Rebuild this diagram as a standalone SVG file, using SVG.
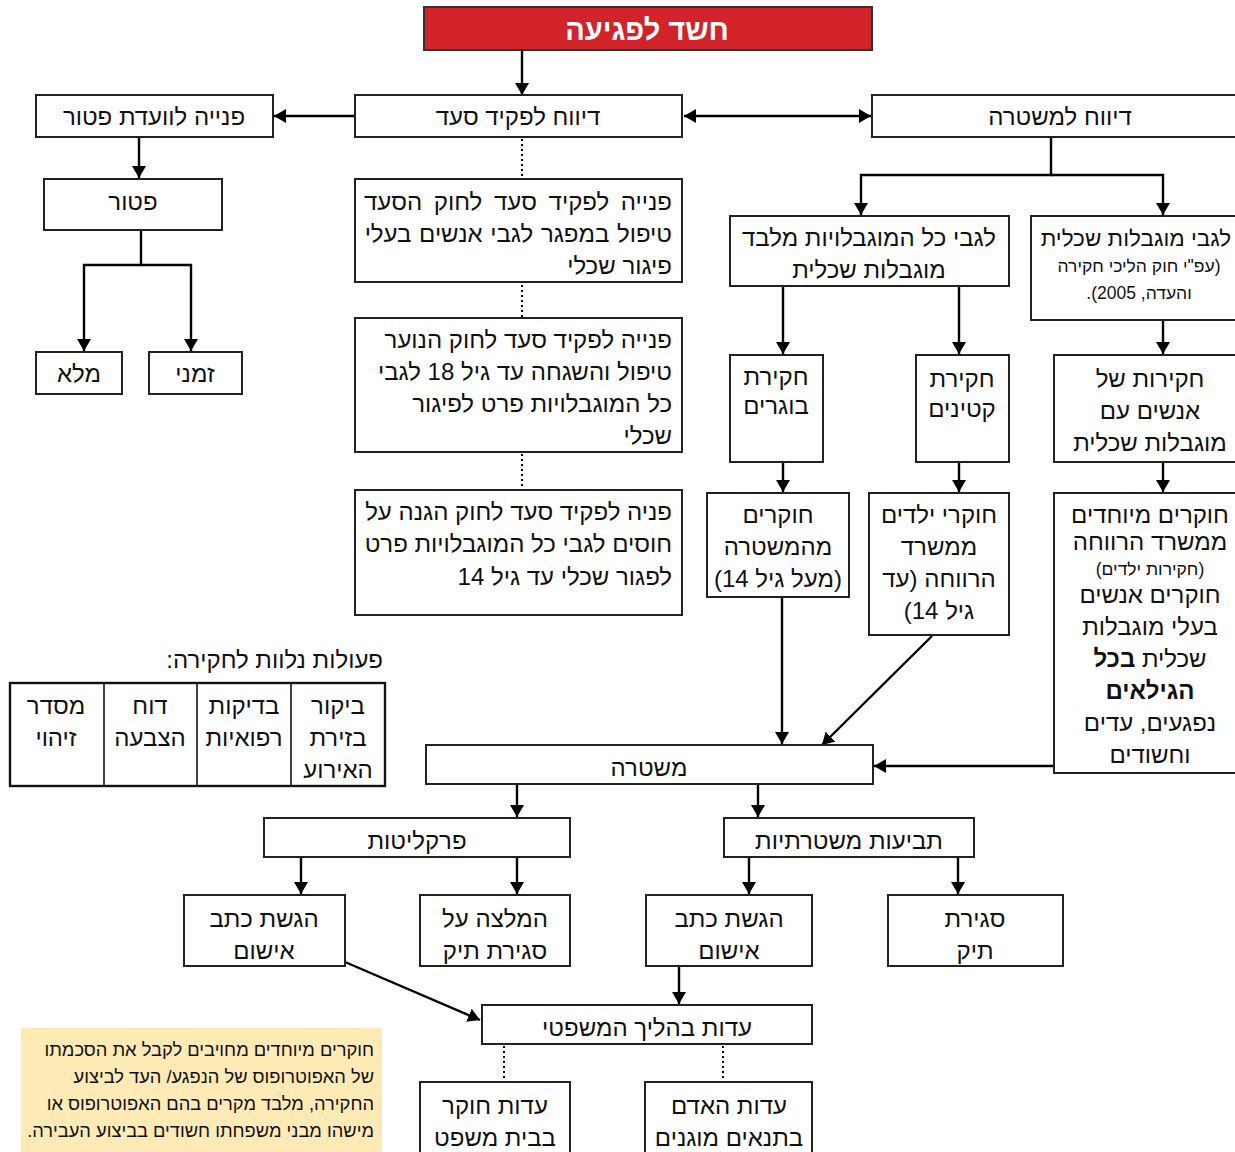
<svg xmlns="http://www.w3.org/2000/svg" width="1235" height="1152" viewBox="0 0 1235 1152">
<style>
text{font-family:"Liberation Sans","DejaVu Sans",sans-serif;font-size:24px;fill:#111;direction:rtl;text-anchor:middle}
.r{text-anchor:start}
.s{font-size:17.5px}
.n{font-size:18.3px}
.b{font-weight:bold}
.box{fill:#fff;stroke:#222;stroke-width:2}
.ln{fill:none;stroke:#000;stroke-width:2.4}
.dot{fill:none;stroke:#000;stroke-width:2;stroke-dasharray:2 3}
</style>
<defs>
<marker id="a" viewBox="0 0 12 14" refX="12" refY="7" markerWidth="12" markerHeight="14" orient="auto-start-reverse" markerUnits="userSpaceOnUse"><path d="M0,0 L12,7 L0,14 z" fill="#000"/></marker>
</defs>

<g id="connectors">
<path class="ln" d="M522,50 V95" marker-end="url(#a)"/>
<path class="ln" d="M355,116 H274" marker-end="url(#a)"/>
<path class="ln" d="M684,116 H871" marker-start="url(#a)" marker-end="url(#a)"/>
<path class="ln" d="M139,137 V178" marker-end="url(#a)"/>
<path class="ln" d="M141,230 V265 H84 V351" marker-end="url(#a)"/>
<path class="ln" d="M141,265 H191 V351" marker-end="url(#a)"/>
<path class="dot" d="M522,139 V178"/>
<path class="dot" d="M522,285 V317"/>
<path class="dot" d="M522,454 V489"/>
<path class="ln" d="M1051,137 V175 H861 V215" marker-end="url(#a)"/>
<path class="ln" d="M1051,175 H1163 V215" marker-end="url(#a)"/>
<path class="ln" d="M783,287 V354" marker-end="url(#a)"/>
<path class="ln" d="M959,287 V354" marker-end="url(#a)"/>
<path class="ln" d="M1163,321 V354" marker-end="url(#a)"/>
<path class="ln" d="M783,463 V492" marker-end="url(#a)"/>
<path class="ln" d="M959,463 V492" marker-end="url(#a)"/>
<path class="ln" d="M1163,463 V492" marker-end="url(#a)"/>
<path class="ln" d="M782,598 V744" marker-end="url(#a)"/>
<path class="ln" d="M932,636 L822,745" marker-end="url(#a)"/>
<path class="ln" d="M1054,766 H874" marker-end="url(#a)"/>
<path class="ln" d="M517,785 V817" marker-end="url(#a)"/>
<path class="ln" d="M758,785 V817" marker-end="url(#a)"/>
<path class="ln" d="M301,858 V894" marker-end="url(#a)"/>
<path class="ln" d="M517,858 V894" marker-end="url(#a)"/>
<path class="ln" d="M749,858 V894" marker-end="url(#a)"/>
<path class="ln" d="M958,858 V894" marker-end="url(#a)"/>
<path class="ln" d="M345,962 L480,1020" marker-end="url(#a)"/>
<path class="ln" d="M679,967 V1004" marker-end="url(#a)"/>
<path class="dot" d="M504,1046 V1081"/>
<path class="dot" d="M723,1046 V1081"/>
</g>

<g id="n-suspicion">
<rect x="424" y="7" width="448" height="43" fill="#d2232a" stroke="#333" stroke-width="2"/>
<text x="647" y="40" class="b" style="font-size:29px;fill:#fff">חשד לפגיעה</text>
</g>

<g id="n-welfare">
<rect class="box" x="355" y="95" width="327" height="42"/>
<text x="518" y="125">דיווח לפקיד סעד</text>
</g>

<g id="n-exemption-committee">
<rect class="box" x="36" y="95" width="237" height="42"/>
<text x="154" y="125">פנייה לוועדת פטור</text>
</g>

<g id="n-police-report">
<rect class="box" x="872" y="95" width="370" height="42"/>
<text x="1060" y="125">דיווח למשטרה</text>
</g>

<g id="n-exemption">
<rect class="box" x="44" y="179" width="178" height="51"/>
<text x="133" y="210">פטור</text>
</g>

<g id="n-full">
<rect class="box" x="36" y="352" width="86" height="42"/>
<text x="79" y="382">מלא</text>
</g>

<g id="n-temp">
<rect class="box" x="149" y="352" width="93" height="42"/>
<text x="195" y="382">זמני</text>
</g>

<g id="n-welfare-law">
<rect class="box" x="355" y="179" width="327" height="103"/>
<text class="r" x="672" y="210" style="word-spacing:5px">פנייה לפקיד סעד לחוק הסעד</text>
<text class="r" x="672" y="242" style="word-spacing:1px">טיפול במפגר לגבי אנשים בעלי</text>
<text class="r" x="672" y="274">פיגור שכלי</text>
</g>

<g id="n-youth-law">
<rect class="box" x="355" y="318" width="327" height="134"/>
<text class="r" x="672" y="348">פנייה לפקיד סעד לחוק הנוער</text>
<text class="r" x="672" y="380">טיפול והשגחה עד גיל 18 לגבי</text>
<text class="r" x="672" y="412">כל המוגבלויות פרט לפיגור</text>
<text class="r" x="672" y="444">שכלי</text>
</g>

<g id="n-protection-law">
<rect class="box" x="355" y="490" width="327" height="125"/>
<text class="r" x="672" y="520">פניה לפקיד סעד לחוק הגנה על</text>
<text class="r" x="672" y="552">חוסים לגבי כל המוגבלויות פרט</text>
<text class="r" x="672" y="585">לפגור שכלי עד גיל 14</text>
</g>

<g id="n-all-disabilities">
<rect class="box" x="730" y="216" width="279" height="70"/>
<text x="869" y="246">לגבי כל המוגבלויות מלבד</text>
<text x="869" y="278">מוגבלות שכלית</text>
</g>

<g id="n-intellectual">
<rect class="box" x="1031" y="216" width="211" height="104"/>
<text x="1136" y="246" style="font-size:22.5px">לגבי מוגבלות שכלית</text>
<text class="s" x="1139" y="272">(עפ"י חוק הליכי חקירה</text>
<text class="s" x="1139" y="299">והעדה, 2005).</text>
</g>

<g id="n-adults">
<rect class="box" x="730" y="355" width="93" height="107"/>
<text x="776" y="385">חקירת</text>
<text x="776" y="414">בוגרים</text>
</g>

<g id="n-minors">
<rect class="box" x="916" y="355" width="93" height="107"/>
<text x="962" y="387">חקירת</text>
<text x="962" y="417">קטינים</text>
</g>

<g id="n-intellectual-inv">
<rect class="box" x="1054" y="355" width="188" height="107"/>
<text x="1150" y="387">חקירות של</text>
<text x="1150" y="419">אנשים עם</text>
<text x="1150" y="451">מוגבלות שכלית</text>
</g>

<g id="n-police-investigators">
<rect class="box" x="707" y="493" width="142" height="104"/>
<text x="778" y="523">חוקרים</text>
<text x="778" y="555">מהמשטרה</text>
<text x="778" y="587">(מעל גיל 14)</text>
</g>

<g id="n-child-investigators">
<rect class="box" x="869" y="493" width="140" height="142"/>
<text x="939" y="523">חוקרי ילדים</text>
<text x="939" y="555">ממשרד</text>
<text x="939" y="587">הרווחה (עד</text>
<text x="939" y="619">גיל 14)</text>
</g>

<g id="n-special-investigators">
<rect class="box" x="1054" y="493" width="188" height="280"/>
<text x="1150" y="523">חוקרים מיוחדים</text>
<text x="1150" y="550">ממשרד הרווחה</text>
<text class="s" x="1150" y="575">(חקירות ילדים)</text>
<text x="1150" y="603">חוקרים אנשים</text>
<text x="1150" y="635">בעלי מוגבלות</text>
<text x="1150" y="667">שכלית <tspan class="b">בכל</tspan></text>
<text x="1150" y="699" class="b">הגילאים</text>
<text x="1150" y="731">נפגעים, עדים</text>
<text x="1150" y="763">וחשודים</text>
</g>

<g id="n-accompanying">
<text class="r" x="383" y="668">פעולות נלוות לחקירה:</text>
<rect x="10" y="683" width="375" height="103" fill="#fff" stroke="#111" stroke-width="2.4"/>
<path d="M104,683 V786 M197,683 V786 M291,683 V786" stroke="#111" stroke-width="1.6"/>
<text x="56" y="714">מסדר</text>
<text x="56" y="746">זיהוי</text>
<text x="150" y="714">דוח</text>
<text x="150" y="746">הצבעה</text>
<text x="244" y="714">בדיקות</text>
<text x="244" y="746">רפואיות</text>
<text x="338" y="714">ביקור</text>
<text x="338" y="746">בזירת</text>
<text x="338" y="778">האירוע</text>
</g>

<g id="n-police">
<rect class="box" x="426" y="745" width="447" height="39"/>
<text x="649" y="776">משטרה</text>
</g>

<g id="n-prosecution">
<rect class="box" x="264" y="818" width="306" height="39"/>
<text x="417" y="849">פרקליטות</text>
</g>

<g id="n-police-prosecution">
<rect class="box" x="724" y="818" width="250" height="39"/>
<text x="849" y="849">תביעות משטרתיות</text>
</g>

<g id="n-indict-1">
<rect class="box" x="184" y="895" width="161" height="71"/>
<text x="264" y="927">הגשת כתב</text>
<text x="264" y="959">אישום</text>
</g>

<g id="n-recommend-close">
<rect class="box" x="420" y="895" width="150" height="71"/>
<text x="495" y="927">המלצה על</text>
<text x="495" y="959">סגירת תיק</text>
</g>

<g id="n-indict-2">
<rect class="box" x="646" y="895" width="166" height="71"/>
<text x="729" y="927">הגשת כתב</text>
<text x="729" y="959">אישום</text>
</g>

<g id="n-close">
<rect class="box" x="888" y="895" width="175" height="71"/>
<text x="975" y="927">סגירת</text>
<text x="975" y="959">תיק</text>
</g>

<g id="n-testimony">
<rect class="box" x="482" y="1005" width="330" height="39"/>
<text x="647" y="1036">עדות בהליך המשפטי</text>
</g>

<g id="n-investigator-testimony">
<rect class="box" x="420" y="1082" width="150" height="80"/>
<text x="495" y="1114">עדות חוקר</text>
<text x="495" y="1146">בבית משפט</text>
</g>

<g id="n-protected-testimony">
<rect class="box" x="645" y="1082" width="167" height="80"/>
<text x="729" y="1114">עדות האדם</text>
<text x="729" y="1146">בתנאים מוגנים</text>
</g>

<g id="n-note">
<rect x="21" y="1028" width="361" height="124" fill="#feeab5"/>
<text class="r n" x="374" y="1056">חוקרים מיוחדים מחויבים לקבל את הסכמתו</text>
<text class="r n" x="374" y="1083">של האפוטרופוס של הנפגע/ העד לביצוע</text>
<text class="r n" x="374" y="1110">החקירה, מלבד מקרים בהם האפוטרופוס או</text>
<text class="r n" x="374" y="1137">מישהו מבני משפחתו חשודים בביצוע העבירה.</text>
</g>
</svg>
